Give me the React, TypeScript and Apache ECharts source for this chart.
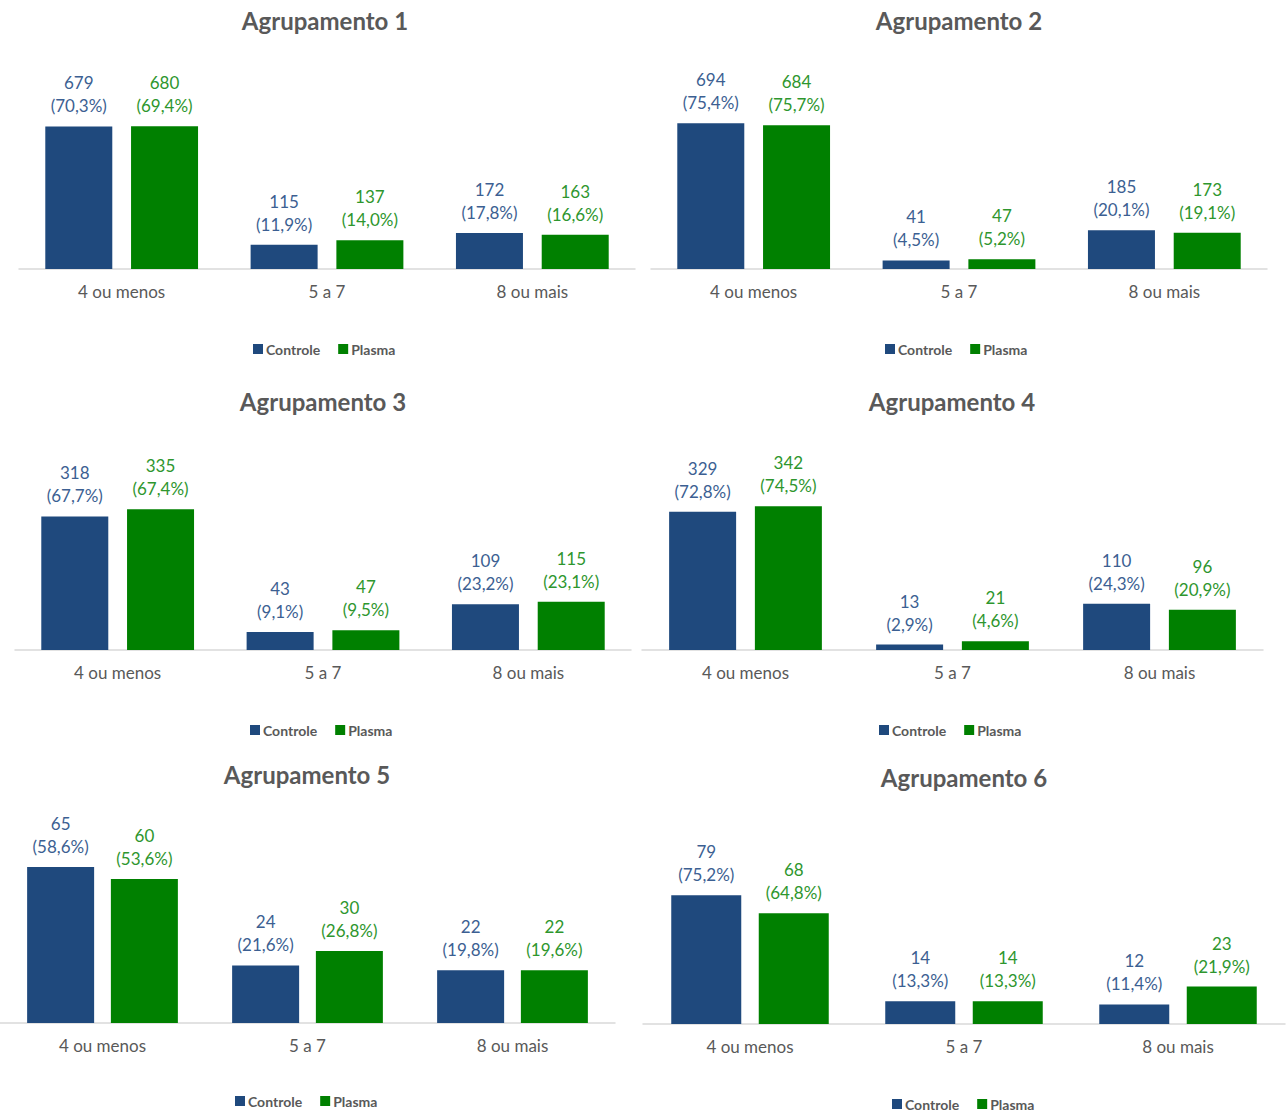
import React, { useEffect, useRef } from "react";
import * as echarts from "echarts";

// Category axis shared by every panel
const categories = ["4 ou menos", "5 a 7", "8 ou mais"];
const seriesNames = ["Controle", "Plasma"];

// Counts and shares per grouping (Controle / Plasma)
const controle1 = [679, 115, 172];
const plasma1 = [680, 137, 163];
const pctControle1 = ["70,3", "11,9", "17,8"];
const pctPlasma1 = ["69,4", "14,0", "16,6"];

const controle2 = [694, 41, 185];
const plasma2 = [684, 47, 173];
const pctControle2 = ["75,4", "4,5", "20,1"];
const pctPlasma2 = ["75,7", "5,2", "19,1"];

const controle3 = [318, 43, 109];
const plasma3 = [335, 47, 115];
const pctControle3 = ["67,7", "9,1", "23,2"];
const pctPlasma3 = ["67,4", "9,5", "23,1"];

const controle4 = [329, 13, 110];
const plasma4 = [342, 21, 96];
const pctControle4 = ["72,8", "2,9", "24,3"];
const pctPlasma4 = ["74,5", "4,6", "20,9"];

const controle5 = [65, 24, 22];
const plasma5 = [60, 30, 22];
const pctControle5 = ["58,6", "21,6", "19,8"];
const pctPlasma5 = ["53,6", "26,8", "19,6"];

const controle6 = [79, 14, 12];
const plasma6 = [68, 14, 23];
const pctControle6 = ["75,2", "13,3", "11,4"];
const pctPlasma6 = ["64,8", "13,3", "21,9"];

const titles = [
  "Agrupamento 1",
  "Agrupamento 2",
  "Agrupamento 3",
  "Agrupamento 4",
  "Agrupamento 5",
  "Agrupamento 6",
];

const FONT = "Lato, 'Noto Sans', sans-serif";
const BAR_BLUE = "#1f497d";
const BAR_GREEN = "#008000";
const TEXT_BLUE = "#3c5f92";
const TEXT_GREEN = "#2e962e";
const GRAY = "#595959";

type Panel = {
  controle: number[];
  plasma: number[];
  pctC: string[];
  pctP: string[];
  max: number;
  left: number;
  width: number;
  baseline: number;
  height: number;
  barWidth: number;
  barGap: string;
  titleX: number;
  titleY: number;
  legendX: number;
  legendY: number;
};

const panels: Panel[] = [
  { controle: controle1, plasma: plasma1, pctC: pctControle1, pctP: pctPlasma1, max: 800, left: 19, width: 616, baseline: 269, height: 168, barWidth: 67, barGap: "28%", titleX: 325, titleY: 20, legendX: 253, legendY: 350 },
  { controle: controle2, plasma: plasma2, pctC: pctControle2, pctP: pctPlasma2, max: 800, left: 651, width: 616, baseline: 269, height: 168, barWidth: 67, barGap: "28%", titleX: 959, titleY: 20, legendX: 885, legendY: 350 },
  { controle: controle3, plasma: plasma3, pctC: pctControle3, pctP: pctPlasma3, max: 400, left: 15, width: 616, baseline: 650, height: 168, barWidth: 67, barGap: "28%", titleX: 323, titleY: 401, legendX: 250, legendY: 731 },
  { controle: controle4, plasma: plasma4, pctC: pctControle4, pctP: pctPlasma4, max: 400, left: 642, width: 621, baseline: 650, height: 168, barWidth: 67, barGap: "28%", titleX: 952, titleY: 401, legendX: 879, legendY: 731 },
  { controle: controle5, plasma: plasma5, pctC: pctControle5, pctP: pctPlasma5, max: 70, left: 0, width: 615, baseline: 1023, height: 168, barWidth: 67, barGap: "25%", titleX: 307, titleY: 774, legendX: 235, legendY: 1102 },
  { controle: controle6, plasma: plasma6, pctC: pctControle6, pctP: pctPlasma6, max: 100, left: 643, width: 642, baseline: 1024, height: 163, barWidth: 70, barGap: "25%", titleX: 964, titleY: 777, legendX: 892, legendY: 1105 },
];

const TOTAL_H = 1115;

function buildOption() {
  const grid: any[] = [];
  const xAxis: any[] = [];
  const yAxis: any[] = [];
  const series: any[] = [];
  const legend: any[] = [];
  const graphic: any[] = [];

  panels.forEach((p, i) => {
    grid.push({
      left: p.left,
      width: p.width,
      top: p.baseline - p.height,
      height: p.height,
      containLabel: false,
    });
    xAxis.push({
      type: "category",
      gridIndex: i,
      data: categories,
      axisLine: { show: true, lineStyle: { color: "#d9d9d9", width: 1.5 } },
      axisTick: { show: false },
      axisLabel: {
        color: GRAY,
        fontFamily: FONT,
        fontSize: 17,
        margin: 14,
      },
    });
    yAxis.push({
      type: "value",
      gridIndex: i,
      min: 0,
      max: p.max,
      show: false,
      splitLine: { show: false },
    });

    const mkSeries = (name: string, data: number[], pct: string[], bar: string, text: string) => ({
      type: "bar",
      name,
      xAxisIndex: i,
      yAxisIndex: i,
      data,
      barWidth: p.barWidth,
      barGap: p.barGap,
      itemStyle: { color: bar },
      label: {
        show: true,
        position: "top",
        distance: 9,
        color: text,
        fontFamily: FONT,
        fontSize: 17,
        lineHeight: 23,
        formatter: (d: any) => `${d.value}\n(${pct[d.dataIndex]}%)`,
      },
    });
    series.push(mkSeries(seriesNames[0], p.controle, p.pctC, BAR_BLUE, TEXT_BLUE));
    series.push(mkSeries(seriesNames[1], p.plasma, p.pctP, BAR_GREEN, TEXT_GREEN));

    legend.push({
      data: seriesNames,
      left: p.legendX - 5,
      top: p.legendY - 13,
      itemWidth: 10,
      itemHeight: 10,
      itemGap: 18,
      icon: "rect",
      selectedMode: false,
      textStyle: {
        color: GRAY,
        fontFamily: FONT,
        fontSize: 14,
        fontWeight: "bold",
        padding: [0, 0, 0, -2],
      },
    });

    graphic.push({
      type: "text",
      x: p.titleX,
      y: p.titleY,
      style: {
        text: titles[i],
        fill: GRAY,
        font: `bold 24px ${FONT}`,
        textAlign: "center",
        textVerticalAlign: "middle",
      },
    });
  });

  return {
    animation: false,
    backgroundColor: "#ffffff",
    grid,
    xAxis,
    yAxis,
    series,
    legend,
    graphic,
  };
}

export default function App() {
  const ref = useRef<HTMLDivElement>(null);

  useEffect(() => {
    document.body.style.margin = "0";
    if (!ref.current) return;
    const chart = echarts.init(ref.current, undefined, { renderer: "svg" });
    chart.setOption(buildOption() as any);
    return () => chart.dispose();
  }, []);

  return <div ref={ref} style={{ width: 1287, height: TOTAL_H }} />;
}
